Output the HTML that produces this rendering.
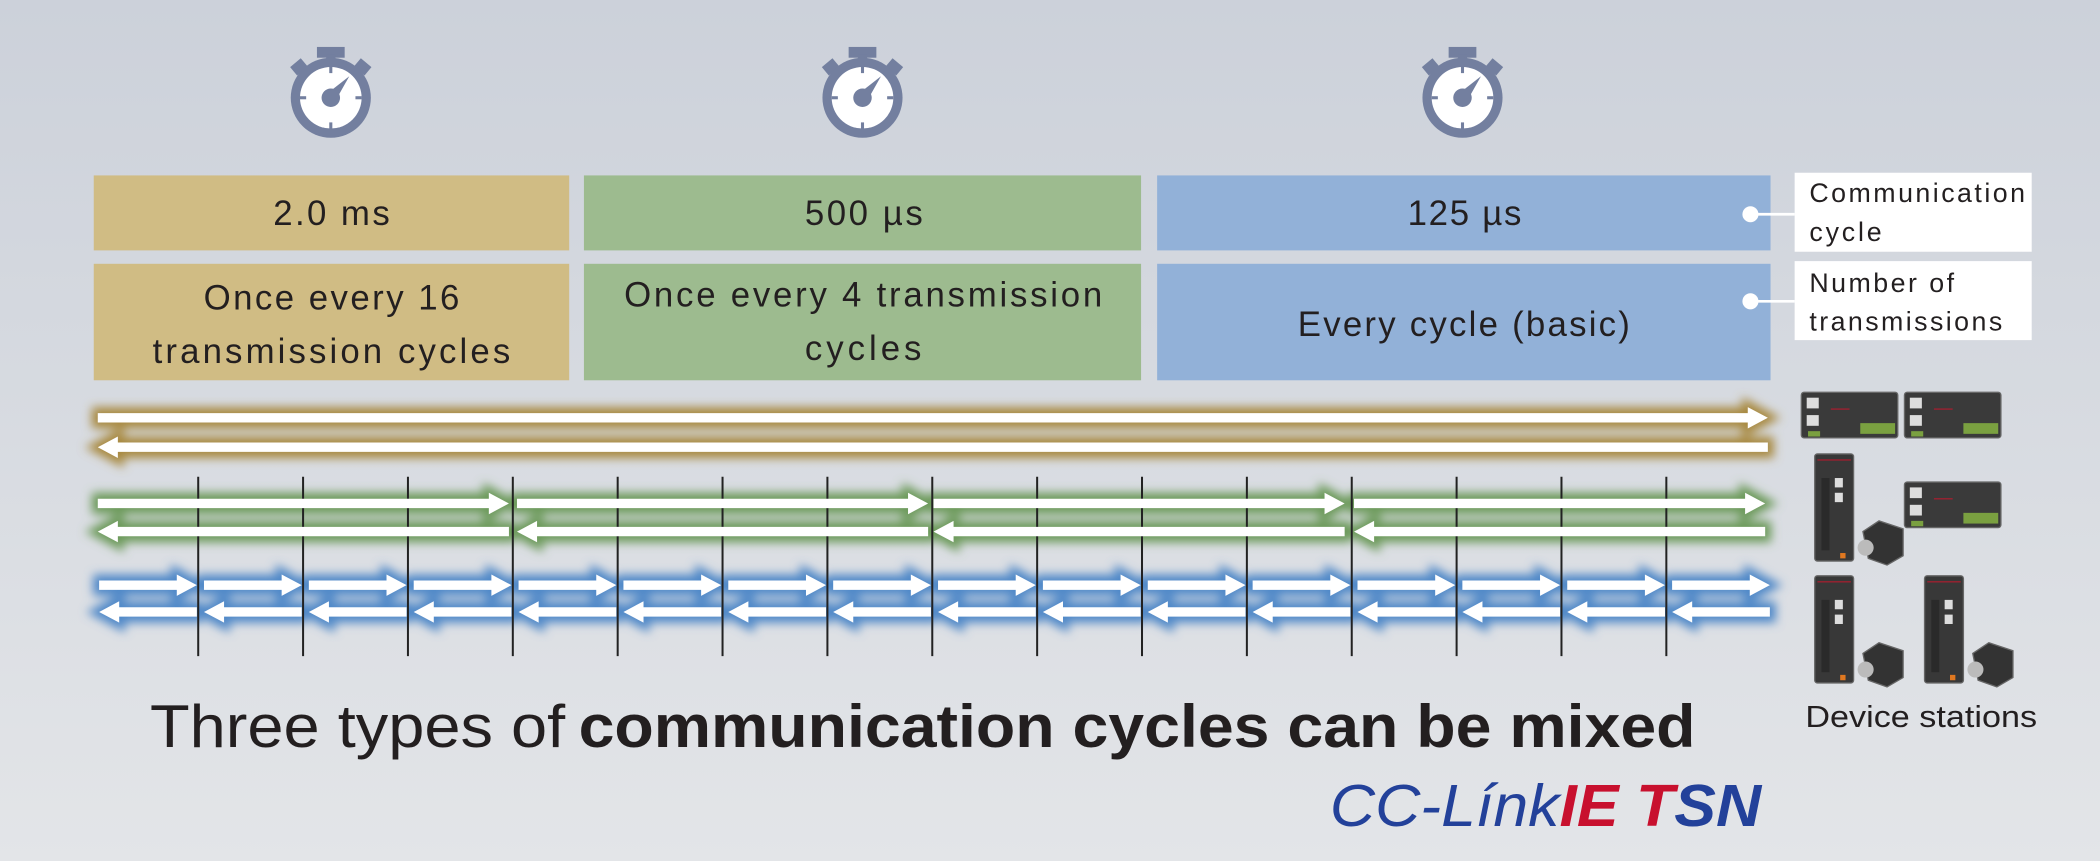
<!DOCTYPE html>
<html><head><meta charset="utf-8"><style>html,body{margin:0;padding:0;}svg{display:block;}</style></head>
<body>
<svg width="2100" height="861" viewBox="0 0 1568 643" preserveAspectRatio="none" xmlns="http://www.w3.org/2000/svg" font-family="Liberation Sans, sans-serif">
<defs>
<linearGradient id="bg" x1="0" y1="0" x2="0" y2="1"><stop offset="0" stop-color="#ccd1da"/><stop offset="1" stop-color="#e3e5e8"/></linearGradient>
<filter id="blur" x="-5%" y="-100%" width="110%" height="300%"><feGaussianBlur stdDeviation="3.5"/></filter>
<path id="bR" d="M0,-3.5H58V-8L73,0L58,8V3.5H0Z"/>
<path id="bL" d="M73,-3.5H15V-8L0,0L15,8V3.5H73Z"/>
<path id="gR" d="M0,-3.5H292V-8L307,0L292,8V3.5H0Z"/>
<path id="gL" d="M307,-3.5H15V-8L0,0L15,8V3.5H307Z"/>
<path id="yR" d="M0,-3.5H1232V-8L1247,0L1232,8V3.5H0Z"/>
<path id="yL" d="M1247,-3.5H15V-8L0,0L15,8V3.5H1247Z"/>
<g id="gold"><use href="#yR" x="73" y="312"/><use href="#yL" x="73" y="334"/></g>
<g id="green">
<use href="#gR" x="73" y="376"/><use href="#gR" x="386" y="376"/><use href="#gR" x="697" y="376"/><use href="#gR" x="1011" y="376"/>
<use href="#gL" x="73" y="397"/><use href="#gL" x="386" y="397"/><use href="#gL" x="697" y="397"/><use href="#gL" x="1011" y="397"/>
</g>
<g id="bR16">
<use href="#bR" x="74"/><use href="#bR" x="152.3"/><use href="#bR" x="230.6"/><use href="#bR" x="308.9"/><use href="#bR" x="387.2"/><use href="#bR" x="465.5"/><use href="#bR" x="543.8"/><use href="#bR" x="622.1"/><use href="#bR" x="700.4"/><use href="#bR" x="778.7"/><use href="#bR" x="857"/><use href="#bR" x="935.3"/><use href="#bR" x="1013.6"/><use href="#bR" x="1091.9"/><use href="#bR" x="1170.2"/><use href="#bR" x="1248.5"/>
</g>
<g id="bL16">
<use href="#bL" x="74"/><use href="#bL" x="152.3"/><use href="#bL" x="230.6"/><use href="#bL" x="308.9"/><use href="#bL" x="387.2"/><use href="#bL" x="465.5"/><use href="#bL" x="543.8"/><use href="#bL" x="622.1"/><use href="#bL" x="700.4"/><use href="#bL" x="778.7"/><use href="#bL" x="857"/><use href="#bL" x="935.3"/><use href="#bL" x="1013.6"/><use href="#bL" x="1091.9"/><use href="#bL" x="1170.2"/><use href="#bL" x="1248.5"/>
</g>
<g id="blue"><use href="#bR16" y="437"/><use href="#bL16" y="457"/></g>
<g id="sw">
<rect x="-9" y="-33" width="18" height="7" fill="#737f9f"/>
<rect x="-3" y="-28" width="6" height="6" fill="#737f9f"/>
<rect x="-25" y="-24" width="9" height="7" fill="#737f9f" transform="rotate(-40 -20 -20)"/>
<rect x="16" y="-24" width="9" height="7" fill="#737f9f" transform="rotate(40 20 -20)"/>
<circle r="26" fill="#737f9f"/>
<circle r="20" fill="#fff"/>
<g stroke="#737f9f" stroke-width="2"><line x1="0" y1="-20" x2="0" y2="-16"/><line x1="0" y1="20" x2="0" y2="16"/><line x1="-20" y1="0" x2="-16" y2="0"/><line x1="20" y1="0" x2="16" y2="0"/></g>
<circle r="6" fill="#737f9f"/>
<path d="M-2,-3L12,-14L3,2Z" fill="#737f9f"/>
</g>
<g id="mod">
<rect x="0" y="0" width="72" height="34" rx="2" fill="#3a3a3a" stroke="#666" stroke-width="1"/>
<rect x="4" y="4" width="9" height="8" fill="#ddd"/><rect x="4" y="17" width="9" height="8" fill="#ddd"/>
<rect x="22" y="12" width="14" height="1" fill="#a02030"/>
<rect x="44" y="23" width="26" height="8" fill="#7aa040"/>
<rect x="5" y="29" width="9" height="4" fill="#7aa040"/>
</g>
<g id="servo">
<rect x="0" y="0" width="29" height="80" rx="2" fill="#383838" stroke="#666" stroke-width="1"/>
<rect x="2" y="4" width="25" height="1" fill="#a02030"/>
<rect x="15" y="18" width="6" height="7" fill="#ddd"/><rect x="15" y="29" width="6" height="7" fill="#ddd"/>
<rect x="5" y="18" width="6" height="54" fill="#2a2a2a"/>
<rect x="19" y="74" width="4" height="4" fill="#e07820"/>
<path d="M36,58 L48,50 L66,56 L66,76 L54,83 L40,78Z" fill="#333" stroke="#666"/>
<circle cx="38" cy="70" r="6" fill="#bbb"/>
</g>
</defs>
<rect width="1568" height="643" fill="url(#bg)"/>
<g transform="translate(247,73) scale(1.15)"><use href="#sw"/></g>
<g transform="translate(644,73) scale(1.15)"><use href="#sw"/></g>
<g transform="translate(1092,73) scale(1.15)"><use href="#sw"/></g>
<rect x="70" y="131" width="355" height="56" fill="#d0bc84"/>
<rect x="436" y="131" width="416" height="56" fill="#9dbb8f"/>
<rect x="864" y="131" width="458" height="56" fill="#92b1d8"/>
<rect x="70" y="197" width="355" height="87" fill="#d0bc84"/>
<rect x="436" y="197" width="416" height="87" fill="#9dbb8f"/>
<rect x="864" y="197" width="458" height="87" fill="#92b1d8"/>
<g font-size="26" fill="#231f20" lengthAdjust="spacingAndGlyphs">
<text x="204" y="168" textLength="87">2.0 ms</text>
<text x="601" y="168" textLength="88">500 µs</text>
<text x="1051" y="168" textLength="85">125 µs</text>
<text x="152" y="231" textLength="191">Once every 16</text>
<text x="114" y="271" textLength="267">transmission cycles</text>
<text x="466" y="229" textLength="357">Once every 4 transmission</text>
<text x="601" y="269" textLength="87">cycles</text>
<text x="969" y="251" textLength="248">Every cycle (basic)</text>
</g>
<rect x="1340" y="129" width="177" height="59" fill="#fff"/>
<rect x="1340" y="195" width="177" height="59" fill="#fff"/>
<line x1="1307" y1="160" x2="1340" y2="160" stroke="#fff" stroke-width="2"/>
<line x1="1307" y1="225" x2="1340" y2="225" stroke="#fff" stroke-width="2"/>
<circle cx="1307" cy="160" r="6" fill="#fff"/><circle cx="1307" cy="225" r="6" fill="#fff"/>
<g font-size="20" fill="#231f20" lengthAdjust="spacingAndGlyphs">
<text x="1351" y="151" textLength="161">Communication</text><text x="1351" y="180" textLength="54">cycle</text>
<text x="1351" y="218" textLength="108">Number of</text><text x="1351" y="247" textLength="144">transmissions</text>
</g>
<use href="#gold" fill="#a8893f" stroke="#a8893f" stroke-width="9" filter="url(#blur)"/>
<use href="#green" fill="#6c9a5a" stroke="#6c9a5a" stroke-width="9" filter="url(#blur)"/>
<use href="#blue" fill="#4f88c8" stroke="#4f88c8" stroke-width="9" filter="url(#blur)"/>
<g stroke="#222" stroke-width="1.5">
<line x1="148" y1="356" x2="148" y2="490"/><line x1="226.3" y1="356" x2="226.3" y2="490"/><line x1="304.6" y1="356" x2="304.6" y2="490"/><line x1="382.9" y1="356" x2="382.9" y2="490"/><line x1="461.2" y1="356" x2="461.2" y2="490"/><line x1="539.5" y1="356" x2="539.5" y2="490"/><line x1="617.8" y1="356" x2="617.8" y2="490"/><line x1="696.1" y1="356" x2="696.1" y2="490"/><line x1="774.4" y1="356" x2="774.4" y2="490"/><line x1="852.7" y1="356" x2="852.7" y2="490"/><line x1="931" y1="356" x2="931" y2="490"/><line x1="1009.3" y1="356" x2="1009.3" y2="490"/><line x1="1087.6" y1="356" x2="1087.6" y2="490"/><line x1="1165.9" y1="356" x2="1165.9" y2="490"/><line x1="1244.2" y1="356" x2="1244.2" y2="490"/>
</g>
<use href="#gold" fill="#fff"/>
<use href="#green" fill="#fff"/>
<use href="#blue" fill="#fff"/>
<use href="#mod" x="1345" y="293"/><use href="#mod" x="1422" y="293"/><use href="#mod" x="1422" y="360"/>
<use href="#servo" x="1355" y="339"/><use href="#servo" x="1355" y="430"/><use href="#servo" x="1437" y="430"/>
<text x="1348" y="543" font-size="23" fill="#231f20" textLength="173" lengthAdjust="spacingAndGlyphs">Device stations</text>
<text x="112" y="558" font-size="45" fill="#231f20" textLength="310" lengthAdjust="spacingAndGlyphs">Three types of</text>
<text x="432" y="558" font-size="45" font-weight="bold" fill="#231f20" textLength="834" lengthAdjust="spacingAndGlyphs">communication cycles can be mixed</text>
<text x="993" y="617" font-size="44" font-style="italic" textLength="322" lengthAdjust="spacingAndGlyphs"><tspan fill="#23419a">CC-Línk</tspan><tspan fill="#c8102e" font-weight="bold">IE T</tspan><tspan fill="#23419a" font-weight="bold">SN</tspan></text>
</svg>
</body></html>
